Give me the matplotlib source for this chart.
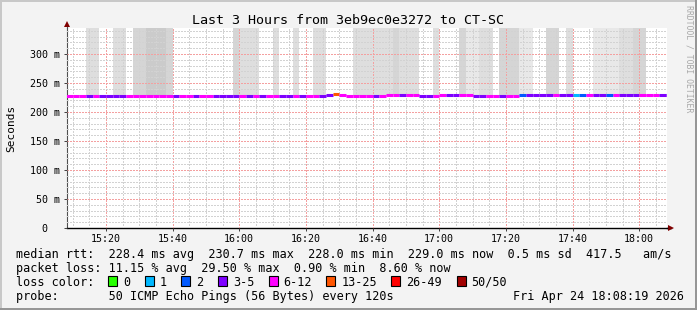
import numpy as np
import matplotlib
matplotlib.use('Agg')
import matplotlib.pyplot as plt
import matplotlib.transforms as mtransforms
from matplotlib.patches import Rectangle

plt.rcParams['font.family'] = 'DejaVu Sans Mono'

W, H = 697, 310

title = 'Last 3 Hours from 3eb9ec0e3272 to CT-SC'
# x axis in minutes after 15:00 ; graph spans 15:08:19 .. 18:08:19
t_start, t_end = 8 + 19 / 60., 188 + 19 / 60.
step = 2  # rrd step in minutes (probe every 120s)
step_start = np.arange(8, 190, step)  # 91 steps, 15:08 .. 18:08

# median rtt per step (ms)
median_ms = [
    228.4, 228.4, 228.4, 228.2, 228.4, 228.2, 228.2, 228.2, 228.2, 228.4,
    228.4, 228.4, 228.4, 228.4, 228.4, 228.4, 228.2, 228.4, 228.4, 228.2,
    228.4, 228.4, 228.3, 228.3, 228.3, 228.3, 228.4, 228.3, 228.4, 228.3,
    228.4, 228.4, 228.3, 228.3, 228.4, 228.3, 228.4, 228.4, 228.3, 229.6,
    230.7, 229.3, 228.0, 228.0, 228.0, 228.0, 228.3, 228.4, 229.0, 229.0,
    228.6, 228.6, 228.6, 228.0, 228.0, 228.0, 228.5, 228.5, 228.5, 228.6,
    228.6, 228.0, 228.0, 228.4, 228.4, 228.3, 228.4, 228.4, 228.8, 228.8,
    228.8, 228.8, 228.8, 228.8, 228.8, 228.8, 228.8, 228.8, 228.8, 228.8,
    228.8, 228.8, 228.8, 228.8, 228.8, 228.8, 228.8, 229.8, 229.0, 229.0,
    229.0,
]

# lost pings (of 50) per step
loss_cnt = [
    7, 7, 7, 4, 7, 4, 4, 4, 4, 7,
    8, 7, 9, 8, 7, 7, 4, 7, 7, 4,
    7, 6, 4, 4, 5, 4, 7, 4, 7, 4,
    6, 7, 4, 3, 7, 4, 7, 7, 4, 5,
    14, 8, 7, 7, 6, 7, 4, 7, 8, 7,
    4, 7, 7, 4, 5, 7, 7, 4, 4, 7,
    6, 4, 5, 7, 7, 4, 6, 7, 2, 4,
    3, 4, 5, 7, 4, 4, 1, 2, 6, 4,
    4, 2, 6, 4, 3, 4, 7, 8, 6, 4,
    4,
]

# smoke density per step (0 = no smoke above the median)
smoke_lvl = [
    0, 0, 0, 2, 2, 0, 0, 2, 2, 0,
    3, 3, 4, 4, 4, 3, 0, 0, 0, 0,
    0, 0, 0, 0, 0, 3, 2, 2, 2, 0,
    0, 2, 0, 0, 2, 0, 0, 2, 2, 0,
    0, 0, 0, 2, 2, 2, 2, 2, 2, 3,
    2, 2, 2, 0, 0, 2, 0, 0, 0, 3,
    1, 1, 2, 2, 0, 3, 3, 3, 1, 1,
    0, 0, 3, 3, 0, 2, 0, 0, 0, 1,
    1, 1, 1, 2, 2, 3, 3, 0, 0, 0,
    0,
]

loss_labels = ['0', '1', '2', '3-5', '6-12', '13-25', '26-49', '50/50']
loss_colors = ['#26ff00', '#00b8ff', '#0059ff', '#7e00ff', '#ff00ff',
               '#ff5500', '#ff0000', '#a10000']
loss_edges = [1, 2, 3, 6, 13, 26, 50]
smoke_colors = {1: '#e8e8e8', 2: '#dedede', 3: '#d5d5d5', 4: '#cbcbcb'}

xticks = [20, 40, 60, 80, 100, 120, 140, 160, 180]
xtick_labels = ['15:20', '15:40', '16:00', '16:20', '16:40',
                '17:00', '17:20', '17:40', '18:00']
yticks = [0, 50, 100, 150, 200, 250, 300]
ytick_labels = ['0', '50 m', '100 m', '150 m', '200 m', '250 m', '300 m']

rtt_avg, rtt_max, rtt_min, rtt_now, rtt_sd, am_s = 228.4, 230.7, 228.0, 229.0, 0.5, 417.5
loss_avg, loss_max, loss_min, loss_now = 11.15, 29.50, 0.90, 8.60
probe_txt = '50 ICMP Echo Pings (56 Bytes) every 120s'
date_txt = 'Fri Apr 24 18:08:19 2026'


def px(x, y):
    return x / W, 1 - y / H


fig = plt.figure(figsize=(W / 100., H / 100.), dpi=100, facecolor='#f3f3f3')
ax = fig.add_axes([67. / W, 1 - 228. / H, 600. / W, 200. / H])
ax.set_facecolor('white')
ymax = 300 * 200 / 174.
ax.set_xlim(t_start, t_end)
ax.set_ylim(0, ymax)

med = np.array(median_ms)
lvl = np.array(smoke_lvl)
has = lvl > 0
#smoke
ax.bar(step_start[has], ymax - med[has], width=step, bottom=med[has], align='edge',
       color=[smoke_colors[v] for v in lvl[has]], linewidth=0, zorder=1)

#median line coloured by loss
cls = np.searchsorted(loss_edges, loss_cnt, side='right')
ax.hlines(med, step_start, step_start + step, colors=[loss_colors[c] for c in cls],
          linewidth=2.2, zorder=3)

#grid
ax.set_xticks(xticks)
ax.set_xticklabels(xtick_labels, fontsize=7.2)
ax.set_xticks(np.arange(10, 190, 5), minor=True)
ax.set_yticks(yticks)
ax.set_yticklabels([])
ax.set_yticks(np.arange(0, 345, 10), minor=True)
ax.set_axisbelow(False)
ax.grid(which='minor', color='#d2d2d2', linestyle=(0, (1, 1)), linewidth=1.0,
        antialiased=False)
ax.grid(which='major', color='#f4a0a0', linestyle=(0, (1, 1)), linewidth=1.0,
        antialiased=False)
ax.tick_params(which='major', direction='out', length=2, width=0.72, color='#444444', pad=2.3)
ax.tick_params(which='minor', length=0)

trans = mtransforms.blended_transform_factory(ax.transAxes, ax.transData)
for v, lab in zip(yticks, ytick_labels):
    shift = -7 if ' ' in lab else -20
    off = mtransforms.ScaledTranslation(shift / 100., 0, fig.dpi_scale_trans)
    ax.text(0, v, lab, transform=trans + off, ha='right', va='center_baseline', fontsize=7.2)

for s in ['top', 'right']:
    ax.spines[s].set_visible(False)
ax.spines['left'].set_color('#505050')
ax.spines['left'].set_linewidth(0.8)
ax.spines['bottom'].set_color('black')
ax.spines['bottom'].set_linewidth(1.0)
ax.plot([0, 0], [1, 1.015], transform=ax.transAxes, clip_on=False, color='#505050', lw=0.8)
ax.plot([1, 1.006], [0, 0], transform=ax.transAxes, clip_on=False, color='black', lw=1.0)
ax.plot([0], [1.02], marker='^', transform=ax.transAxes, clip_on=False,
        color='#800000', markersize=4, markeredgewidth=0)
ax.plot([1.006], [0], marker='>', transform=ax.transAxes, clip_on=False,
        color='#800000', markersize=4, markeredgewidth=0)

fig.text(*px(348, 24), title, fontsize=9.6, ha='center', va='baseline')
fig.text(*px(11, 128), 'Seconds', rotation=90, ha='center', va='center', fontsize=8)
fig.text(*px(689, 5), 'RRDTOOL / TOBI OETIKER', rotation=270, ha='center', va='top',
         fontsize=5.9, color='#a8a8a8')

line1 = ('median rtt:  %.1f ms avg  %.1f ms max  %.1f ms min  %.1f ms now  %.1f ms sd  %.1f   am/s'
         % (rtt_avg, rtt_max, rtt_min, rtt_now, rtt_sd, am_s))
line2 = ('packet loss: %.2f %% avg  %.2f %% max  %.2f %% min  %.2f %% now'
         % (loss_avg, loss_max, loss_min, loss_now))
fig.text(*px(16, 258), line1, fontsize=8.5, va='baseline')
fig.text(*px(16, 272), line2, fontsize=8.5, va='baseline')
fig.text(*px(16, 285.7), 'loss color:', fontsize=8.5, va='baseline')
fig.text(*px(16, 300), 'probe:       ' + probe_txt, fontsize=8.5, va='baseline')
fig.text(*px(513, 300), date_txt, fontsize=8.5, va='baseline')

x = 108.
for lab, col in zip(loss_labels, loss_colors):
    fig.add_artist(Rectangle(px(x, 286), 9. / W, 10. / H, transform=fig.transFigure,
                             facecolor=col, edgecolor='black', linewidth=0.8))
    fig.text(*px(x + 15, 285.7), lab, fontsize=8.5, va='baseline')
    x += 15 + len(lab) * 7.1 + 14.5

#3d frame
for (x0, y0, w, h, c) in [(0, 0, W, 2, '#c8c8c8'), (0, 0, 2, H, '#c8c8c8'),
                          (0, H - 2, W, 2, '#969696'), (W - 2, 0, 2, H, '#969696')]:
    fig.add_artist(Rectangle(px(x0, y0 + h), w / W, h / H, transform=fig.transFigure,
                             facecolor=c, edgecolor='none'))

fig.savefig('out.png', dpi=100, facecolor=fig.get_facecolor())
